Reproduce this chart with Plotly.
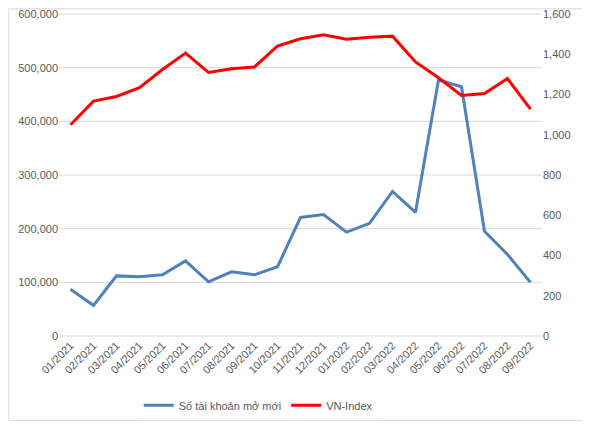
import plotly.graph_objects as go

months = ['01/2021', '02/2021', '03/2021', '04/2021', '05/2021', '06/2021', '07/2021',
          '08/2021', '09/2021', '10/2021', '11/2021', '12/2021', '01/2022', '02/2022',
          '03/2022', '04/2022', '05/2022', '06/2022', '07/2022', '08/2022', '09/2022']
new_accounts = [87000, 57000, 112000, 110500, 114000, 140000, 101000, 119500, 114000, 129000,
                221000, 226500, 193500, 210000, 269500, 230500, 477000, 464500, 195000, 152000, 100000]
vn_index = [1050, 1167, 1190, 1234, 1324, 1406, 1310, 1328, 1337, 1441,
            1477, 1497, 1475, 1485, 1490, 1362, 1283, 1195, 1205, 1279, 1127]

left_ticks = [0, 100000, 200000, 300000, 400000, 500000, 600000]
right_ticks = [0, 200, 400, 600, 800, 1000, 1200, 1400, 1600]

fig = go.Figure()
fig.add_trace(go.Scatter(x=months, y=new_accounts, name='Số tài khoản mở mới', mode='lines',
                         line=dict(color='#4F81BD', width=3)))
fig.add_trace(go.Scatter(x=months, y=vn_index, name='VN-Index', mode='lines', yaxis='y2',
                         line=dict(color='#FF0000', width=3)))

# gridlines as paper shapes so the edge ones don't get clipped away
ymax = left_ticks[-1]
grid = [dict(type='line', xref='paper', yref='paper', x0=0, x1=1, y0=v / ymax, y1=v / ymax,
             layer='below', line=dict(color='#D9D9D9', width=1)) for v in left_ticks]
border = dict(type='rect', xref='paper', yref='paper', x0=-0.104, x1=1.096, y0=-0.262, y1=1.016,
              line=dict(color='#D9D9D9', width=1))

# page body adds 8px, so the figure is a bit smaller and margins shifted
font = dict(family='Liberation Sans, Arial', size=11, color='#595959')
fig.update_layout(
    width=582, height=418,
    margin=dict(l=51, r=48, t=6, b=87),
    paper_bgcolor='white', plot_bgcolor='white',
    font=font,
    showlegend=True,
    legend=dict(orientation='h', x=0.165, xanchor='left', y=-0.17, yanchor='top',
                font=dict(size=11, color='#595959'), itemwidth=30, tracegroupgap=0),
    xaxis=dict(type='category', range=[-0.5, 20.5], tickangle=-45, showgrid=False,
               showline=False, ticks='', tickfont=font, automargin=False),
    yaxis=dict(range=[0, ymax], tickvals=left_ticks, tickformat=',', showgrid=False,
               zeroline=False, showline=False, tickfont=font,
               automargin=False, ticklabeloverflow='allow'),
    yaxis2=dict(range=[0, 1600], tickvals=right_ticks, tickformat=',', overlaying='y', side='right',
                showgrid=False, zeroline=False, showline=False, tickfont=font, automargin=False,
                ticklabeloverflow='allow'),
    shapes=grid + [border],
)

fig.write_html("out.html")
